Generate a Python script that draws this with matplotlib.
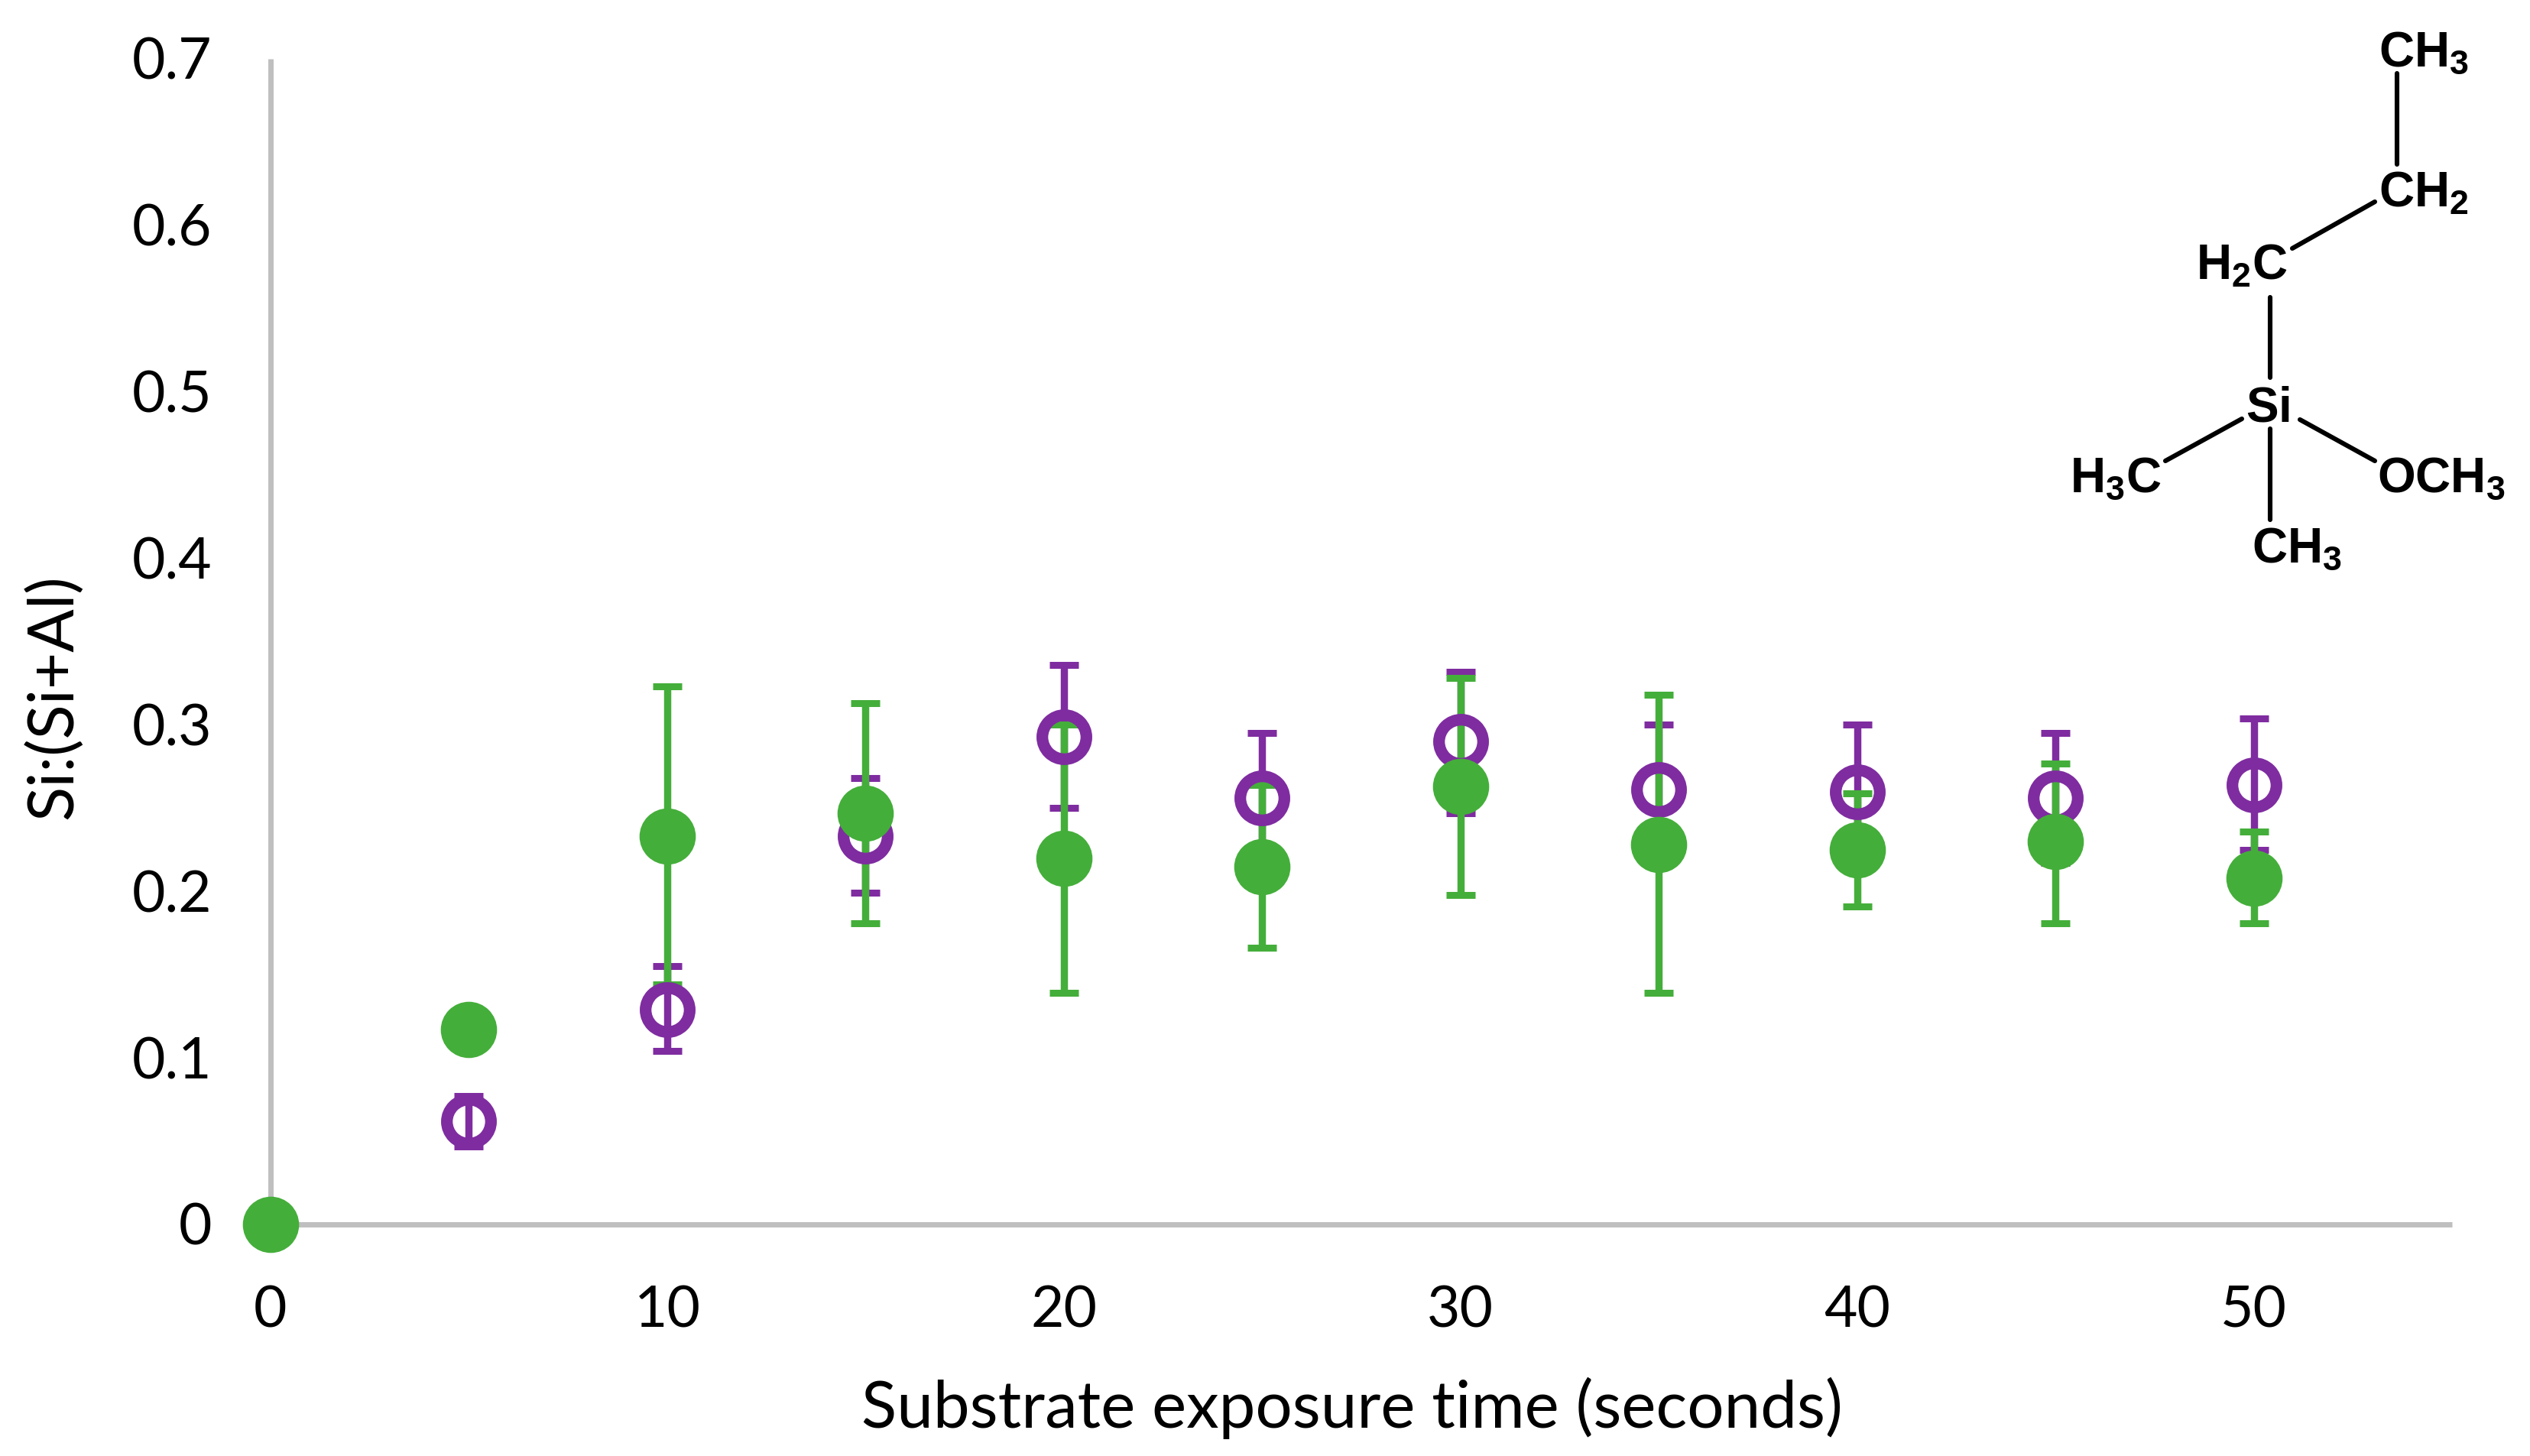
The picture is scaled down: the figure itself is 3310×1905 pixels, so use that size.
import matplotlib
matplotlib.use('Agg')
import matplotlib.pyplot as plt
from matplotlib.lines import Line2D
from matplotlib.transforms import ScaledTranslation

W, H = 3310, 1906

# data
times = [0, 5, 10, 15, 20, 25, 30, 35, 40, 45, 50]
purple_t = [5, 10, 15, 20, 25, 30, 35, 40, 45, 50]
purple_y = [0.062, 0.129, 0.233, 0.293, 0.256, 0.290, 0.261, 0.260, 0.256, 0.264]
purple_hi = [0.077, 0.155, 0.268, 0.336, 0.295, 0.332, 0.300, 0.300, 0.295, 0.304]
purple_lo = [0.047, 0.104, 0.199, 0.250, 0.217, 0.247, 0.222, 0.220, 0.217, 0.225]
green_y = [0, 0.117, 0.233, 0.247, 0.220, 0.215, 0.263, 0.228, 0.225, 0.230, 0.208]
green_hi = [0, 0.117, 0.323, 0.313, 0.300, 0.264, 0.328, 0.318, 0.259, 0.277, 0.236]
green_lo = [0, 0.117, 0.144, 0.181, 0.139, 0.166, 0.198, 0.139, 0.191, 0.181, 0.181]

x_ticks = [0, 10, 20, 30, 40, 50]
y_ticks = [0, 0.1, 0.2, 0.3, 0.4, 0.5, 0.6, 0.7]
y_tick_labels = ['0', '0.1', '0.2', '0.3', '0.4', '0.5', '0.6', '0.7']

GREEN = '#44AE3A'
PURPLE = '#7F2CA0'
GREY = '#BFBFBF'

plt.rcParams['font.family'] = ['Lato', 'DejaVu Sans']
plt.rcParams['mathtext.fontset'] = 'custom'
plt.rcParams['mathtext.bf'] = 'Liberation Sans:bold'
plt.rcParams['mathtext.rm'] = 'Liberation Sans:bold'

fig = plt.figure(figsize=(W / 100, H / 100), dpi=100)
left, right, top, bottom = 354, 3208, 78, 1603
ax = fig.add_axes([left / W, 1 - bottom / H, (right - left) / W, (bottom - top) / H])
ax.set_xlim(0, 55)
ax.set_ylim(0, 0.7)

for s in ['top', 'right']:
    ax.spines[s].set_visible(False)
for s in ['left', 'bottom']:
    ax.spines[s].set_color(GREY)
    ax.spines[s].set_linewidth(5)
    ax.spines[s].set_capstyle('butt')

ax.set_xticks(x_ticks)
ax.set_yticks(y_ticks)
ax.set_yticklabels(y_tick_labels)
ax.tick_params(length=0, labelsize=54, colors='black')
ax.tick_params(axis='x', pad=56)
ax.tick_params(axis='y', pad=55)
# lift the y labels a little
for lab in ax.get_yticklabels():
    lab.set_transform(lab.get_transform() + ScaledTranslation(0, 2 / 100, fig.dpi_scale_trans))


def bars(t, y, lo, hi, color, z):
    err = [[a - b for a, b in zip(y, lo)], [b - a for a, b in zip(y, hi)]]
    ax.errorbar(t, y, yerr=err, fmt='none', ecolor=color, elinewidth=6.8,
                capsize=13.7, capthick=6.5, zorder=z, clip_on=False)


bars(purple_t, purple_y, purple_lo, purple_hi, PURPLE, 3)
bars(times, green_y, green_lo, green_hi, GREEN, 4)
ax.plot(purple_t, purple_y, 'o', ms=41.5, mfc='none', mec=PURPLE, mew=11, zorder=5, clip_on=False)
ax.plot(times, green_y, 'o', ms=53, mfc=GREEN, mec='none', zorder=6, clip_on=False)

fig.text(1769 / W, 1 - 1868 / H, 'Substrate exposure time (seconds)', fontsize=61.5, ha='center', va='baseline')
fig.text(72 / W, 1 - 912 / H, 'Si:(Si+Al)', fontsize=60, rotation=90, ha='center', va='center')

# molecule, in picture pixels
bonds = [
    (3136, 97, 3136, 216),
    (3107, 265, 2999, 326),
    (2970, 390, 2970, 495),
    (2933, 549, 2833, 604),
    (3009, 550, 3107, 604),
    (2970, 562, 2970, 681),
]
for x0, y0, x1, y1 in bonds:
    fig.add_artist(Line2D([x0 / W, x1 / W], [1 - y0 / H, 1 - y1 / H], color='black', lw=4.4,
                          solid_capstyle='round', transform=fig.transFigure))

labels = [
    (3112, 87, r'$\mathbf{CH_3}$'),
    (3112, 271, r'$\mathbf{CH_2}$'),
    (2873, 366, r'$\mathbf{H_2C}$'),
    (2938, 551, r'$\mathbf{Si}$'),
    (2708, 644, r'$\mathbf{H_3C}$'),
    (3110, 644, r'$\mathbf{OCH_3}$'),
    (2946, 736, r'$\mathbf{CH_3}$'),
]
for x, y, s in labels:
    fig.text(x / W, 1 - y / H, s, fontsize=46, ha='left', va='baseline', color='black')

fig.savefig('out.png', dpi=100, facecolor='white')
